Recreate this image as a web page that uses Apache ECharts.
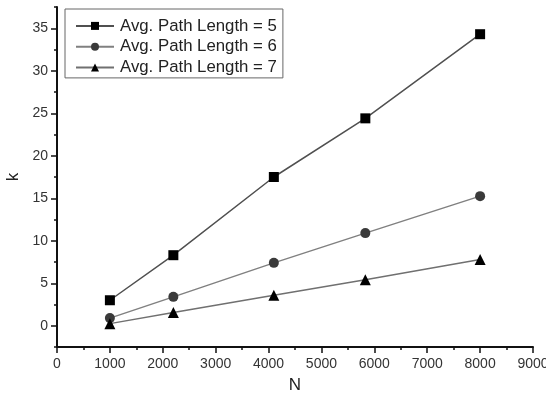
<!DOCTYPE html>
<html><head><meta charset="utf-8">
<script src="https://cdn.jsdelivr.net/npm/echarts@6/dist/echarts.min.js"></script>
<style>html,body{margin:0;padding:0;background:#fff}#c{width:546px;height:402px}</style>
</head><body><div id="c"></div>
<script>
const seriesNames = ['Avg. Path Length = 5', 'Avg. Path Length = 6', 'Avg. Path Length = 7'];
const nValues = [1000, 2200, 4100, 5830, 8000];
const k5 = [3.0, 8.3, 17.5, 24.4, 34.3];
const k6 = [0.9, 3.4, 7.4, 10.9, 15.25];
const k7 = [0.25, 1.55, 3.6, 5.4, 7.8];
const yMajorTicks = [0, 5, 10, 15, 20, 25, 30, 35];
const yMinorTicks = [-2.5, 2.5, 7.5, 12.5, 17.5, 22.5, 27.5, 32.5, 37.5];

const pairs = v => nValues.map((n, i) => [n, v[i]]);
const font = 'Liberation Sans, Arial, sans-serif';
const chart = echarts.init(document.getElementById('c'));
const yBase = {
  type: 'value', min: -2.5, max: 37.5, position: 'left',
  splitLine: {show: false}
};
chart.setOption({
  animation: false,
  grid: {left: 57, right: 13, top: 7, bottom: 55, containLabel: false, outerBoundsMode: 'none'},
  legend: {
    left: 65, top: 9, orient: 'vertical',
    data: seriesNames,
    itemWidth: 38, itemHeight: 10, itemGap: 0,
    borderColor: '#666', borderWidth: 1,
    padding: [6.5, 6, 0, 10],
    textStyle: {fontFamily: font, fontSize: 16.8, lineHeight: 20.8, color: '#222', padding: [0, 0, 0, 1]}
  },
  xAxis: {
    type: 'value', min: 0, max: 9000, interval: 1000,
    name: 'N', nameLocation: 'middle', nameGap: 30,
    nameTextStyle: {fontFamily: font, fontSize: 17, color: '#222'},
    axisLine: {show: true, onZero: false, lineStyle: {color: '#111', width: 2}},
    axisTick: {show: true, length: 6, lineStyle: {color: '#111', width: 1.5}},
    minorTick: {show: true, splitNumber: 2, length: 3, lineStyle: {color: '#111', width: 1.5}},
    axisLabel: {fontFamily: font, fontSize: 14, color: '#333', margin: 10, formatter: v => String(v)},
    splitLine: {show: false}
  },
  yAxis: [
    Object.assign({}, yBase, {
      name: 'k', nameLocation: 'middle', nameGap: 33, nameRotate: 90,
      nameTextStyle: {fontFamily: font, fontSize: 17, color: '#222'},
      axisLine: {show: true, onZero: false, lineStyle: {color: '#111', width: 2}},
      axisTick: {show: true, customValues: yMajorTicks, length: 6, lineStyle: {color: '#111', width: 1.5}},
      axisLabel: {customValues: yMajorTicks, fontFamily: font, fontSize: 14, color: '#333', margin: 9}
    }),
    Object.assign({}, yBase, {
      axisLine: {show: false},
      axisTick: {show: true, customValues: yMinorTicks, length: 3, lineStyle: {color: '#111', width: 1.5}},
      axisLabel: {show: false}
    })
  ],
  series: [
    {name: seriesNames[0], type: 'line', data: pairs(k5), yAxisIndex: 0,
     symbol: 'rect', symbolSize: 10,
     lineStyle: {color: '#505050', width: 1.5}, itemStyle: {color: '#000'}},
    {name: seriesNames[1], type: 'line', data: pairs(k6), yAxisIndex: 0,
     symbol: 'circle', symbolSize: 10,
     lineStyle: {color: '#808080', width: 1.5}, itemStyle: {color: '#3a3a3a'}},
    {name: seriesNames[2], type: 'line', data: pairs(k7), yAxisIndex: 0,
     symbol: 'triangle', symbolSize: 11,
     lineStyle: {color: '#707070', width: 1.5}, itemStyle: {color: '#000'}}
  ]
});
</script></body></html>
